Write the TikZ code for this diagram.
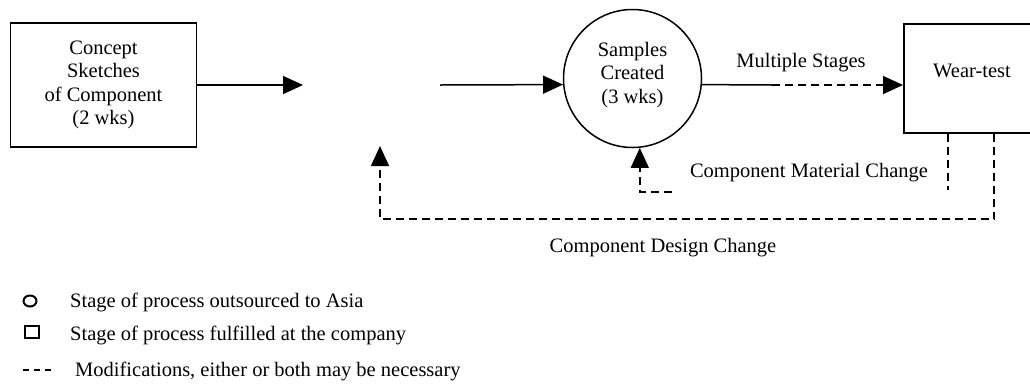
\documentclass[tikz,border=0pt]{standalone}
\usepackage{fontspec}
\setmainfont{Liberation Serif}
\usetikzlibrary{arrows.meta,shapes.geometric}
\begin{document}
\begin{tikzpicture}[x=1pt,y=-1pt,
  font=\fontsize{20.5}{23.4}\selectfont,
  ln/.style={line width=1.5pt},
  tip/.style={-{Triangle[length=20pt,width=18pt]}},
  mod/.style={line width=1.5pt,dash pattern=on 8pt off 5pt},
  stagebox/.style={draw,line width=1.5pt,inner sep=0pt},
  lbl/.style={anchor=base,inner sep=0pt},
  legtxt/.style={anchor=base west,inner sep=0pt}]
\useasboundingbox (0,0) rectangle (1030,384);
\clip (0,0) rectangle (1030,384);

% stages
\node[stagebox,minimum width=186pt,minimum height=124pt,align=center] (concept) at (103.5,85) {Concept\\Sketches\\of Component\\(2 wks)};
\node[stagebox,circle,minimum size=138pt] (samples) at (632.5,78.5) {};
\node[align=center,inner sep=0pt] (samplestxt) at (632.5,75) {Samples\\Created\\(3 wks)};
\node[stagebox,anchor=north west,minimum width=140pt,minimum height=109pt] (wear) at (903,23) {};
\node[lbl] (weartxt) at (972,77) {Wear-test};

% connectors
\coordinate (gapin) at (303,85);
\coordinate (gapout) at (440,85);
\coordinate (ms) at (772,85);
\draw[ln,tip] (concept.east) -- (gapin);
\draw[ln,tip] (gapout) -- (samples.185);
\draw[ln] (samples.-5) -- (ms);
\draw[mod,tip] (ms) -- (wear.west |- ms);
\node[lbl] (mslabel) at (801,67) {Multiple Stages};

% material change
\coordinate (matend) at (948,190);
\coordinate (matstart) at (672,192);
\draw[mod] (matend |- wear.south) -- (matend);
\draw[mod,tip] (matstart) -- (samples.-84 |- matstart) -- (samples.-84);
\node[lbl] (matlabel) at (809,177) {Component Material Change};

% design change
\coordinate (desend) at (994,219);
\coordinate (redo) at (380,146);
\draw[mod,tip] (desend |- wear.south) -- (desend) -- (redo |- desend) -- (redo);
\node[lbl] (deslabel) at (663,252) {Component Design Change};

% legend
\node[draw,ellipse,line width=2pt,minimum width=13pt,minimum height=11pt,inner sep=0pt] (legcirc) at (30,301) {};
\node[draw,line width=2.2pt,minimum width=14pt,minimum height=12pt,inner sep=0pt] (legsq) at (32,332) {};
\coordinate (legdash) at (23,370);
\draw[line width=1.5pt,dash pattern=on 6pt off 5pt] (legdash) -- ++(31,0);
\node[legtxt] (leg1) at (70,307) {Stage of process outsourced to Asia};
\node[legtxt] (leg2) at (70,340) {Stage of process fulfilled at the company};
\node[legtxt] (leg3) at (75,376) {Modifications, either or both may be necessary};
\end{tikzpicture}
\end{document}
